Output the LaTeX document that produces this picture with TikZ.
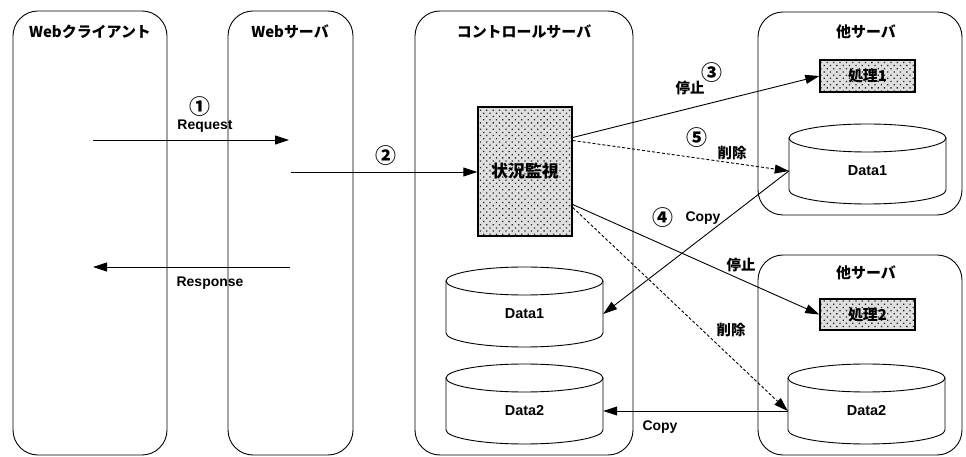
\documentclass[tikz,border=0pt]{standalone}
\usepackage{fontspec}
\setmainfont{Liberation Sans}
\newfontfamily\jp{Noto Sans CJK JP}
\usetikzlibrary{arrows.meta,patterns.meta,calc}
\newcommand{\drawdb}[4]{%
  \begin{scope}[shift={(#2,#3)}]
    \draw[dbline] (-78.5,14) -- (-78.5,66) arc[start angle=180, end angle=0, x radius=78.5, y radius=14] -- (78.5,14);
    \draw[dbline] (0,14) ellipse[x radius=78.5, y radius=14];
    \node[dbtext] (#1) at (0,47) {#4};
  \end{scope}}
\begin{document}
\begin{tikzpicture}[x=1bp,y=-1bp,
  bigbox/.style={draw, line width=0.9bp, rounded corners=25bp, inner sep=0pt},
  ttl/.style={font=\jp\bfseries\fontsize{15}{17}\selectfont, inner sep=0pt},
  lbl/.style={font=\bfseries\fontsize{14}{16}\selectfont, inner sep=0pt},
  jlbl/.style={font=\jp\bfseries\fontsize{14.5}{16}\selectfont, inner sep=0pt},
  num/.style={font=\jp\bfseries\fontsize{21}{22}\selectfont, inner sep=0pt},
  procbox/.style={draw, line width=1.4bp, inner sep=0pt, preaction={fill=gray!25},
    pattern={Dots[distance=4.5bp, radius=0.9bp, angle=45]}, pattern color=black!85},
  arr/.style={line width=0.9bp, -{Triangle[length=14bp,width=9bp]}},
  dsh/.style={dash pattern=on 3bp off 2bp},
  dbline/.style={line width=0.9bp},
  dbtext/.style={font=\bfseries\fontsize{14.5}{16}\selectfont, inner sep=0pt, minimum width=157bp, minimum height=14bp},
]
\useasboundingbox (0,0) rectangle (966,457);
\fill[white] (0,0) rectangle (966,457);

% big containers
\node[bigbox, minimum width=154bp, minimum height=444bp] (wc) at (90,233) {};
\node[bigbox, minimum width=125bp, minimum height=444bp] (ws) at (290.5,233) {};
\node[bigbox, minimum width=218bp, minimum height=444bp] (cs) at (524,233) {};
\node[bigbox, minimum width=204bp, minimum height=203bp] (os1) at (860,113.5) {};
\node[bigbox, minimum width=204bp, minimum height=200bp] (os2) at (860,355) {};

% titles
\node[ttl] (twc) at (90,32) {Webクライアント};
\node[ttl] (tws) at (290,32) {Webサーバ};
\node[ttl] (tcs) at (524,32) {コントロールサーバ};
\node[ttl] (tos1) at (866,32) {他サーバ};
\node[ttl] (tos2) at (866,273) {他サーバ};

% process boxes
\node[procbox, minimum width=94bp, minimum height=129bp, font=\jp\bfseries\fontsize{17}{19}\selectfont] (zk) at (525,171.5) {状況監視};
\node[procbox, minimum width=95bp, minimum height=32bp, font=\jp\bfseries\fontsize{15}{17}\selectfont] (p1) at (867.5,76) {処理1};
\node[procbox, minimum width=95bp, minimum height=31bp, font=\jp\bfseries\fontsize{15}{17}\selectfont] (p2) at (867.5,314.5) {処理2};

% databases
\drawdb{cd1}{524.5}{267}{Data1}
\drawdb{cd2}{524.5}{364}{Data2}
\drawdb{od1}{867.5}{124}{Data1}
\drawdb{od2}{866.5}{364}{Data2}

% request / response
\coordinate (rqs) at (93,140);
\coordinate (rqe) at (289,140);
\coordinate (rss) at (290,267);
\coordinate (rse) at (93,267);
\coordinate (c2s) at (291,172);
\draw[arr] (rqs) -- (rqe);
\draw[arr] (rss) -- (rse);
\draw[arr] (c2s) -- (zk.west |- c2s);

% control flows
\draw[arr] ([yshift=34bp]zk.east) -- (p1.west);
\draw[arr, dsh] ([yshift=31bp]zk.east) -- (od1.west);
\draw[arr] ([yshift=-33bp]zk.east) -- (p2.west);
\draw[arr, dsh] ([yshift=-36bp]zk.east) -- (od2.west);
\draw[arr] (od1.west) -- (cd1.east);
\draw[arr] (od2.west) -- (cd2.east);

% labels
\node[num] (n1) at (200,107) {①};
\node[lbl] (lrq) at (205,126) {Request};
\node[lbl] (lrs) at (210,283) {Response};
\node[num] (n2) at (386,156) {②};
\node[num] (n3) at (712,73) {③};
\node[jlbl] (s1) at (690,88) {停止};
\node[num] (n5) at (697,138) {⑤};
\node[jlbl] (d1) at (732,153) {削除};
\node[num] (n4) at (663,218) {④};
\node[lbl] (cp1) at (703,218) {Copy};
\node[jlbl] (s2) at (741,265) {停止};
\node[jlbl] (d2) at (731,330) {削除};
\node[lbl] (cp2) at (660,427) {Copy};
\end{tikzpicture}
\end{document}
